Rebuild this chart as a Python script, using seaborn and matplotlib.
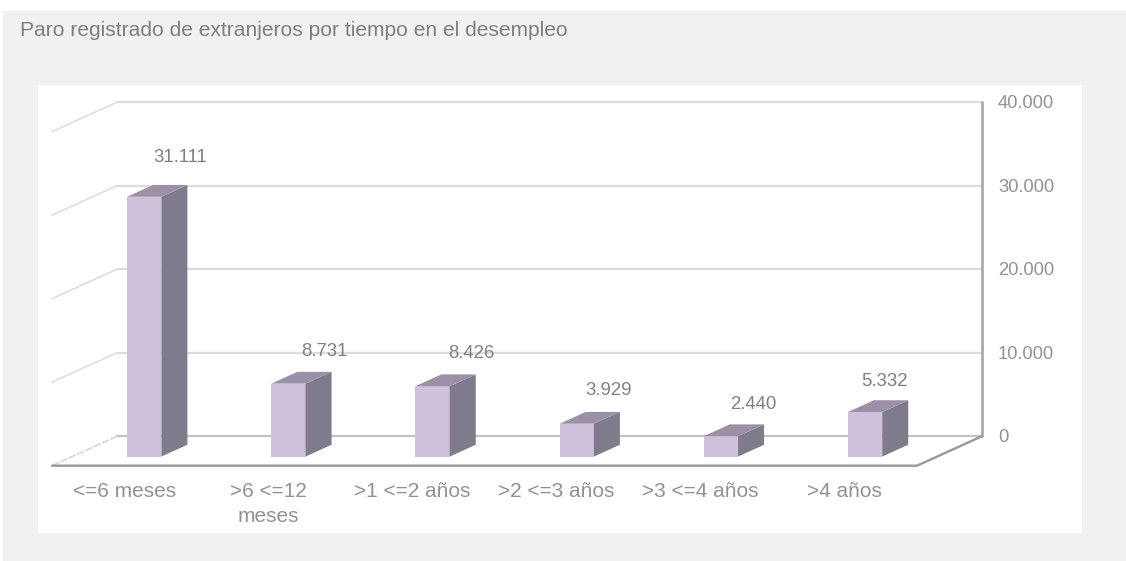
import matplotlib
matplotlib.use('Agg')
import matplotlib.pyplot as plt
import pandas as pd
import seaborn as sns
from matplotlib.patches import Polygon, Rectangle

categories = ['<=6 meses', '>6 <=12\nmeses', '>1 <=2 años', '>2 <=3 años', '>3 <=4 años', '>4 años']
values = [31111, 8731, 8426, 3929, 2440, 5332]
value_ticks = [0, 10000, 20000, 30000, 40000]
title = 'Paro registrado de extranjeros por tiempo en el desempleo'

W, H = 1126, 561
FRONT = '#cdc1dc'
SIDE = '#7f7a8c'
TOP = '#9b90a5'
GRID = '#dcdcdc'
TEXT = '#929292'

# hand placed data labels in the original, offset from the bar top in px
label_dx = [36, 36, 39, 32, 32, 19]
label_dy = [39, 32, 33, 33, 32, 31]


def fmt(v):
    return f'{v:,}'.replace(',', '.')


sns.set_theme(style='white')
plt.rcParams['font.family'] = ['Liberation Sans', 'DejaVu Sans']

fig = plt.figure(figsize=(W / 100, H / 100), dpi=100, facecolor='white')
fig.add_artist(Rectangle((3 / W, 0), 1123 / W, 1 - 11 / H, transform=fig.transFigure,
                         facecolor='#f1f1f1', edgecolor='none', zorder=-2))
fig.add_artist(Rectangle((38 / W, 1 - 533 / H), 1044 / W, 448 / H, transform=fig.transFigure,
                         facecolor='white', edgecolor='none', zorder=-1))
ax = fig.add_axes([52 / W, 1 - 465.7 / H, 865 / W, 334 / H])
ax.patch.set_alpha(0)

df = pd.DataFrame({'cat': categories, 'val': values})
sns.barplot(data=df, x='cat', y='val', ax=ax, color=FRONT, saturation=1, width=0.238, zorder=3,
            edgecolor='none', linewidth=0)
ax.set_xlim(-0.5, 5.5)
ax.set_ylim(0, 40000)

# fake 3d: depth 1 goes from the front floor edge to the back wall
kx = 65 / (865 / 6)
ky = 29.5 / (334 / 40000)


def proj(x, v, z):
    return x + z * kx, v + z * ky


# walls and floor
for t in value_ticks:
    col = '#c2c2c2' if t == 0 else GRID
    ax.plot(*zip(proj(5.5, t, 1), proj(-0.5, t, 1)), color=col, lw=1.6, zorder=1, clip_on=False)
    if t > 0:
        ax.plot(*zip(proj(-0.5, t, 0), proj(-0.5, t, 1)), color=GRID, lw=1.1, zorder=1, clip_on=False)
ax.plot(*zip(proj(-0.5, 0, 0), proj(-0.5, 0, 1)), color='#d4d4d4', lw=1.1, ls=(0, (5, 1)), zorder=1, clip_on=False)
ax.plot(*zip(proj(5.5, 0, 1), proj(5.5, 40000, 1)), color='#a6a6a6', lw=1.9, zorder=2, clip_on=False)
ax.plot(*zip(proj(-0.5, 0, 0), proj(5.5, 0, 0), proj(5.5, 0, 1)), color='#999999', lw=1.7, zorder=2,
        clip_on=False, solid_joinstyle='miter')

# bars: shift the seaborn bars back into the room and add side and top faces
z0 = 0.31
dz = 0.40
for i, p in enumerate(list(ax.patches)):
    x0, h, w = p.get_x(), p.get_height(), p.get_width()
    x0, y0 = proj(x0, 0, z0)
    p.set_x(x0)
    p.set_y(y0)
    p.set_clip_on(False)
    x1 = x0 + w
    y1 = y0 + h
    dx, dy = dz * kx, dz * ky
    ax.add_patch(Polygon([(x1, y0), (x1 + dx, y0 + dy), (x1 + dx, y1 + dy), (x1, y1)],
                         facecolor=SIDE, edgecolor='none', zorder=3, clip_on=False))
    ax.add_patch(Polygon([(x0, y1), (x1, y1), (x1 + dx, y1 + dy), (x0 + dx, y1 + dy)],
                         facecolor=TOP, edgecolor='none', zorder=3, clip_on=False))
    ax.annotate(fmt(values[i]), (x0 + w / 2, y1), xytext=(label_dx[i] * 0.72, label_dy[i] * 0.72),
                textcoords='offset points', ha='center', va='center', fontsize=13.4,
                color='#808080', zorder=4, annotation_clip=False)

# value labels sit to the right of the back wall
for t in value_ticks:
    xt, yt = proj(5.5, t, 1)
    ax.annotate(fmt(t), (xt, yt), xytext=(11.5, -1.2), textcoords='offset points', ha='left', va='center',
                fontsize=13.2, color=TEXT, annotation_clip=False)

ax.set_xlabel('')
ax.set_ylabel('')
ax.set_yticks([])
ax.tick_params(axis='x', length=0, pad=12, labelsize=15, labelcolor=TEXT)
for lab in ax.get_xticklabels():
    lab.set_linespacing(1.35)
sns.despine(ax=ax, left=True, bottom=True)

fig.text(20 / W, 1 - 30 / H, title, fontsize=15.1, color='#7f7f7f', va='center', ha='left')

fig.savefig('out.png', dpi=100, facecolor=fig.get_facecolor())
